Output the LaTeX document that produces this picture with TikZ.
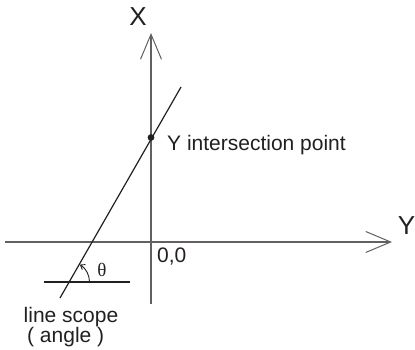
\documentclass[tikz,border=0pt]{standalone}
\usepackage{fontspec}
\setmainfont{Liberation Sans}
\newfontfamily\symfont{Liberation Serif}
\usetikzlibrary{arrows.meta}
\definecolor{ink}{RGB}{35,31,32}
\definecolor{axisgray}{RGB}{100,96,96}
\begin{document}
\begin{tikzpicture}[x=1pt,y=1pt,
  axis/.style={line width=1.1pt, draw=axisgray, -{Straight Barb[length=25pt,width=21pt,line width=1pt]}},
  lbl/.style={inner sep=0pt, font=\fontsize{21}{24}\selectfont, text=ink},
  big/.style={inner sep=0pt, font=\fontsize{26}{30}\selectfont, text=ink}]
\useasboundingbox (0,0) rectangle (415,350);
% axes
\coordinate (xb) at (151,46);
\coordinate (xt) at (151,317);
\coordinate (yl) at (5,108);
\coordinate (yr) at (392,108);
\draw[axis] (xb) -- (xt);
\draw[axis] (yl) -- (yr);
\node[big] (X) at (138,333.5) {X};
\node[big] (Y) at (406.5,124) {Y};
\node[lbl,anchor=base west] (O) at (157,87) {0,0};
% slanted line
\coordinate (a) at (60,52);
\coordinate (b) at (181,263);
\draw[line width=1.2pt, ink] (a) -- (b);
\fill[ink] (151,212.5) circle (3.4pt) coordinate (dot);
\node[lbl,anchor=base west] (yint) at (167,199) {Y intersection point};
% angle reference line
\coordinate (h1) at (44,68);
\coordinate (h2) at (130,68);
\draw[line width=1.1pt, ink] (h1) -- (h2);
\draw[line width=0.9pt, ink, -{Straight Barb[length=4pt,width=6pt]}] (89.5,68) arc[start angle=0,end angle=58,radius=20.5];
\node[inner sep=0pt, text=ink, font=\symfont\fontsize{19}{22}\selectfont] (th) at (102,80) {θ};
\node[lbl,anchor=base] (ls) at (71,27.5) {line scope};
\node[lbl,anchor=base] (ang) at (65.7,7) {( angle )};
\end{tikzpicture}
\end{document}
